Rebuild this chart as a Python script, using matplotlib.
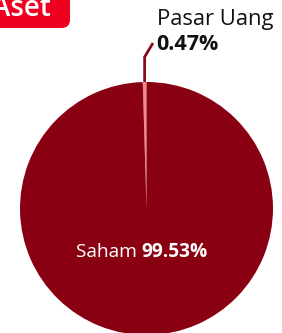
import matplotlib
matplotlib.use("Agg")
import matplotlib.pyplot as plt
import numpy as np
from matplotlib.patches import FancyBboxPatch

categories = ["Pasar Uang", "Saham"]
values = [0.47, 99.53]
colors = ["#F08A84", "#890012"]
title_label = "Aset"

plt.rcParams['font.family'] = ['Open Sans', 'DejaVu Sans']

W, H = 282, 333
fig = plt.figure(figsize=(W / 100, H / 100), dpi=100)

cx, cy, r = 146.5, 208.5, 126.5
ax = fig.add_axes([(cx - r) / W, (H - cy - r) / H, 2 * r / W, 2 * r / H])
wedges, _ = ax.pie(values, colors=colors, startangle=90, counterclock=True,
                   radius=1.0, wedgeprops=dict(linewidth=0))
ax.set_xlim(-1, 1)
ax.set_ylim(-1, 1)
ax.set_aspect('equal')
ax.axis('off')

# leader line for the small slice
w0 = wedges[0]
mid = np.deg2rad((w0.theta1 + w0.theta2) / 2)
x0, y0 = np.cos(mid), np.sin(mid)
elbow_y = 1.198
end = (0.051, 1.308)
ax.plot([x0, x0, end[0]], [y0, elbow_y, end[1]], color="#8B0A1A", lw=2,
        clip_on=False, solid_capstyle='butt')

# labels
def fx(px):
    return px / W

def fy(py):
    return 1 - py / H

fig.text(fx(157), fy(19), categories[0], fontsize=15.8, color="#111111",
         ha='left', va='center')
fig.text(fx(156), fy(45), f"{values[0]:.2f}%", fontsize=15.5, color="#111111",
         ha='left', va='center', fontweight='bold')

t1 = fig.text(fx(76), fy(252), categories[1] + " ", fontsize=13.8, color="white",
              ha='left', va='center', fontweight='medium')
fig.canvas.draw()
bb = t1.get_window_extent()
fig.text(bb.x1 / W, fy(252), f"{values[1]:.2f}%", fontsize=13.8, color="white",
         ha='left', va='center', fontweight='bold')

# red header box
box = FancyBboxPatch((-20 / W, fy(28)), 90 / W, 40 / H,
                     boxstyle="round,pad=0,rounding_size=0.03",
                     transform=fig.transFigure, facecolor="#EE0020",
                     edgecolor='none', mutation_aspect=W / H)
fig.patches.append(box)
fig.text(fx(51), fy(16), title_label, fontsize=20, color="white",
         ha='right', va='baseline', fontweight='semibold')

fig.savefig("out.png", dpi=100)
